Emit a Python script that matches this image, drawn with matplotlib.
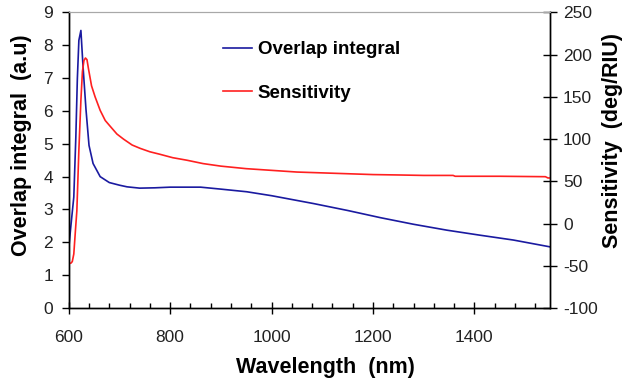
import matplotlib
matplotlib.use("Agg")
import matplotlib.pyplot as plt
from matplotlib.ticker import MultipleLocator

plt.rcParams['font.family'] = ['Liberation Sans', 'DejaVu Sans']
plt.rcParams['axes.unicode_minus'] = False

# Overlap integral (left axis)
wl_overlap = [600, 603, 606, 610, 614, 617, 620, 624, 628, 634, 640, 648, 662, 680,
              700, 715, 740, 770, 800, 860, 900, 951, 1000, 1083, 1150, 1215, 1280,
              1346, 1410, 1477, 1550]
overlap = [1.80, 2.30, 2.77, 3.38, 5.20, 6.98, 8.15, 8.45, 7.40, 6.05, 4.95, 4.40, 4.00, 3.82,
           3.74, 3.69, 3.65, 3.66, 3.68, 3.68, 3.62, 3.54, 3.42, 3.18, 2.97, 2.75, 2.55,
           2.37, 2.22, 2.07, 1.86]

# Sensitivity (right axis)
wl_sens = [600, 604, 607, 610, 613, 616, 620, 624, 627, 630, 633, 636, 639, 645, 652, 662,
           672, 682, 695, 708, 725, 741, 760, 780, 805, 833, 865, 900, 950, 1000, 1050,
           1100, 1150, 1200, 1254, 1300, 1358, 1362, 1450, 1540, 1545, 1550]
sensitivity = [-47, -47, -45, -36, -10, 15, 87, 146, 180, 193, 196, 194, 183, 163, 150, 134,
               122, 115, 106, 100, 93, 89, 85, 82, 78, 75, 71, 68, 65, 63, 61,
               60, 59, 58, 57.5, 57, 57, 56, 56, 55.5, 54, 54]

fig = plt.figure(figsize=(6.22, 3.87), dpi=100)
ax = fig.add_axes([0.1105, 0.204, 0.7745, 0.764])
ax2 = ax.twinx()

l1, = ax.plot(wl_overlap, overlap, color='#1a1aa0', lw=1.2, label='Overlap integral')
l2, = ax2.plot(wl_sens, sensitivity, color='#ff2020', lw=1.2, label='Sensitivity')

ax.set_xlim(600, 1550)
ax.set_ylim(0, 9)
ax2.set_ylim(-100, 250)

ax.xaxis.set_major_locator(MultipleLocator(200))
ax.xaxis.set_minor_locator(MultipleLocator(40))
ax.yaxis.set_major_locator(MultipleLocator(1))
ax2.yaxis.set_major_locator(MultipleLocator(50))

tc = '#222222'
ax.tick_params(axis='x', which='major', direction='inout', length=9, width=1, labelsize=12.5, colors='black', labelcolor=tc, pad=11, top=False)
ax.tick_params(axis='x', which='minor', direction='in', length=3.6, width=1, top=False)
ax.tick_params(axis='y', which='major', direction='out', length=4.7, width=1, labelsize=12.5, labelcolor=tc, pad=6.5)
ax2.tick_params(axis='y', which='major', direction='inout', length=10, width=1, labelsize=12.5, labelcolor=tc, pad=4)

for a in (ax, ax2):
    a.spines['top'].set_color('#a8a8a8')
    for s in ('left', 'right', 'bottom'):
        a.spines[s].set_color('black')
        a.spines[s].set_linewidth(1.0)

W, H = 622, 387
lab = dict(fontsize=15.5, fontweight='bold', ha='center', va='center')
fig.text(325 / W, 1 - 368 / H, 'Wavelength  (nm)', **lab)
fig.text(21.5 / W, 1 - 145 / H, 'Overlap integral  (a.u)', rotation=90, **lab)
fig.text(612.5 / W, 1 - 141 / H, 'Sensitivity  (deg/RIU)', rotation=90, **lab)

leg = ax2.legend(handles=[l1, l2], loc='upper left', bbox_to_anchor=(0.285, 0.96),
                 frameon=False, handlelength=1.55, handletextpad=0.3,
                 labelspacing=1.4, prop={'weight': 'bold', 'size': 13.5})

fig.savefig('out.png', dpi=100)
